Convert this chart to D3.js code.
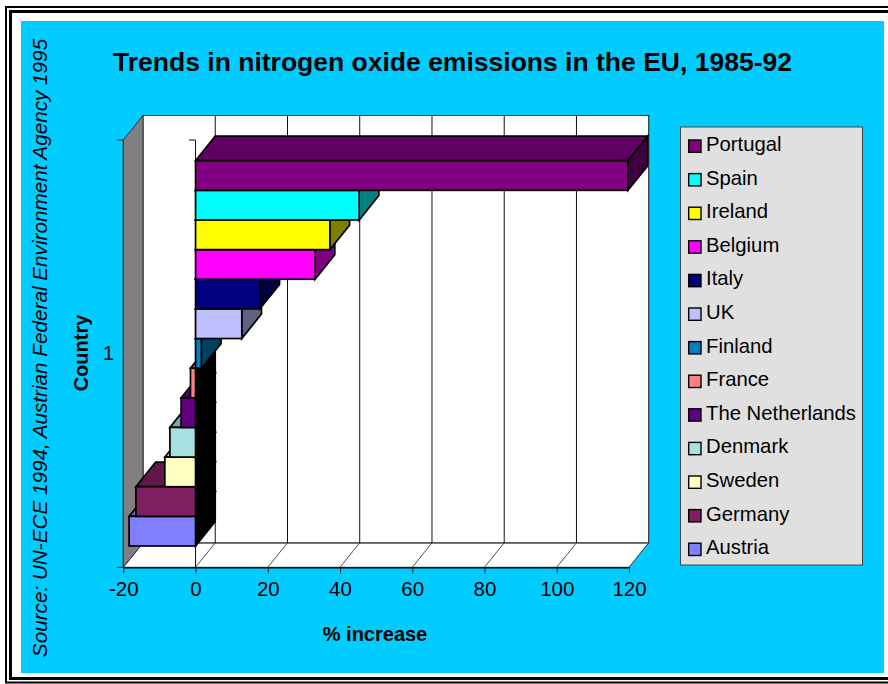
<!DOCTYPE html>
<html>
<head>
<meta charset="utf-8">
<script src="https://cdn.jsdelivr.net/npm/d3@7"></script>
<style>
html,body{margin:0;padding:0;background:#fff;}
svg{display:block;}
text{font-family:"Liberation Sans",Arial,sans-serif;fill:#000;}
</style>
</head>
<body>
<svg id="chart" width="888" height="684"></svg>
<script>
// NOx emission change per country, 1985-92, listed from top of the stack to bottom
const countries = ["Portugal","Spain","Ireland","Belgium","Italy","UK","Finland","France","The Netherlands","Denmark","Sweden","Germany","Austria"];
const increases = [119.7,45.3,37.2,33.1,17.8,12.8,1.6,-1.4,-4.0,-7.1,-8.5,-16.5,-18.4];
const fills = ["#800080","#00ffff","#ffff00","#ff00ff","#000080","#c0c0ff","#0080c0","#ff8080","#600080","#a6e0e0","#ffffc0","#802060","#8080ff"];
const xTicks = [-20,0,20,40,60,80,100,120];
const categoryLabels = ["1"];

const svg = d3.select("#chart");

// Double-rule page frame and blue panel
svg.append("rect").attr("x",6).attr("y",7).attr("width",900).attr("height",675.5)
  .attr("fill","none").attr("stroke","#000").attr("stroke-width",2);
svg.append("rect").attr("x",10.5).attr("y",11.5).attr("width",900).attr("height",667)
  .attr("fill","#fff").attr("stroke","#000").attr("stroke-width",3);
svg.append("rect").attr("x",21).attr("y",21).attr("width",863).attr("height",652).attr("fill","#00ccff");

// Oblique projection of the plot box
const depth = {x:19.7, y:-24.5};
const frontTop = 140, frontBottom = 567.3;
const x = d3.scaleLinear().domain([-20,120]).range([123.3,629]);
const y = d3.scaleBand().domain(countries).range([160.7,546]);
const back = (px,py) => [px+depth.x, py+depth.y];
const poly = pts => "M" + pts.map(p => p.join(",")).join("L") + "Z";
const x0 = x(-20), x1 = x(120);

const walls = svg.append("g");
walls.append("path").attr("d",poly([[x0,frontBottom],[x1,frontBottom],back(x1,frontBottom),back(x0,frontBottom)]))
  .attr("fill","#fff").attr("stroke","#333").attr("stroke-width",1);
walls.append("path").attr("d",poly([back(x0,frontTop),back(x1,frontTop),back(x1,frontBottom),back(x0,frontBottom)]))
  .attr("fill","#fff").attr("stroke","#333").attr("stroke-width",1.2);
walls.append("path").attr("d",poly([[x0,frontTop],back(x0,frontTop),back(x0,frontBottom),[x0,frontBottom]]))
  .attr("fill","#808080").attr("stroke","#333").attr("stroke-width",1);

// Gridlines on the back wall and across the floor
const inner = xTicks.slice(1,-1);
walls.selectAll(".grid").data(inner).join("line").attr("class","grid")
  .attr("x1",d=>x(d)+depth.x).attr("x2",d=>x(d)+depth.x)
  .attr("y1",frontTop+depth.y).attr("y2",frontBottom+depth.y)
  .attr("stroke","#111").attr("stroke-width",1);
walls.selectAll(".floor").data(inner).join("line").attr("class","floor")
  .attr("x1",d=>x(d)).attr("x2",d=>x(d)+depth.x)
  .attr("y1",frontBottom).attr("y2",frontBottom+depth.y)
  .attr("stroke","#222").attr("stroke-width",0.8);

// Category axis drawn on the zero plane, visible above and below the stack
const zeroAxis = svg.append("g").attr("fill","none").attr("stroke","#111").attr("stroke-width",1);
zeroAxis.append("path").attr("d",`M${x(0)-6.5},${frontTop}H${x(0)}V${y.range()[0]}`);
zeroAxis.append("path").attr("d",`M${x(0)},${y.range()[1]}V${frontBottom}`);

// Stacked-looking 3D bars, painted from the bottom up so upper bars overlap lower tops
const shade = (c,k) => { const r = d3.rgb(c); return d3.rgb(r.r*k,r.g*k,r.b*k).formatHex(); };
const rows = countries.map((name,i)=>({name,value:increases[i],fill:fills[i]})).reverse();
const bars = svg.append("g").attr("stroke","#000").attr("stroke-width",1.7).attr("stroke-linejoin","miter");
rows.forEach(d=>{
  const a = Math.min(x(0),x(d.value)), b = Math.max(x(0),x(d.value));
  const t = y(d.name), h = y.bandwidth();
  const g = bars.append("g");
  g.append("path").attr("d",poly([[a,t],[b,t],back(b,t),back(a,t)])).attr("fill",shade(d.fill,0.75));
  g.append("path").attr("d",poly([[b,t],back(b,t),back(b,t+h),[b,t+h]]))
    .attr("fill",d.value<0 ? "#000" : shade(d.fill,0.5));
  g.append("rect").attr("x",a).attr("y",t).attr("width",b-a).attr("height",h).attr("fill",d.fill);
});

// Value axis along the front of the floor
const xAxis = svg.append("g").attr("transform",`translate(0,${frontBottom})`)
  .call(d3.axisBottom(x).tickValues(xTicks).tickSize(6).tickPadding(8).tickSizeOuter(0).tickFormat(d=>String(d)));
xAxis.select(".domain").attr("stroke","#000").attr("stroke-width",1.2);
xAxis.selectAll(".tick line").attr("stroke","#222");
xAxis.selectAll("text").attr("font-size",20.5).attr("font-family",'"Liberation Sans",Arial,sans-serif');

// Left edge ticks and the single category label
const leftAxis = svg.append("g");
leftAxis.selectAll("line").data([frontTop,frontBottom]).join("line")
  .attr("x1",x0-6.5).attr("x2",x0).attr("y1",d=>d).attr("y2",d=>d)
  .attr("stroke","#222").attr("stroke-width",1);
leftAxis.append("line").attr("x1",x0).attr("x2",x0).attr("y1",frontTop).attr("y2",frontBottom).attr("stroke","#333");
leftAxis.selectAll("text").data(categoryLabels).join("text")
  .attr("x",108.5).attr("y",360).attr("text-anchor","middle").attr("font-size",20.5).text(d=>d);

// Titles
svg.append("text").attr("x",452.5).attr("y",71).attr("text-anchor","middle")
  .attr("font-size",26.5).attr("font-weight","bold").text("Trends in nitrogen oxide emissions in the EU, 1985-92");
svg.append("text").attr("x",375).attr("y",641).attr("text-anchor","middle")
  .attr("font-size",20).attr("font-weight","bold").text("% increase");
svg.append("text").attr("transform","translate(88,353) rotate(-90)").attr("text-anchor","middle")
  .attr("font-size",20).attr("font-weight","bold").text("Country");
svg.append("text").attr("transform","translate(47,348) rotate(-90)").attr("text-anchor","middle")
  .attr("font-size",20.7).attr("font-style","italic").text("Source: UN-ECE 1994, Austrian Federal Environment Agency 1995");

// Legend panel
svg.append("rect").attr("x",680.5).attr("y",127).attr("width",182).attr("height",438)
  .attr("fill","#e0e0e0").attr("stroke","#444").attr("stroke-width",1);
const legendY = d3.scalePoint().domain(countries).range([146,549.2]);
const items = svg.append("g").selectAll("g").data(d3.zip(countries,fills)).join("g")
  .attr("transform",d=>`translate(0,${legendY(d[0])})`);
items.append("rect").attr("x",688.7).attr("y",-6).attr("width",12.3).attr("height",12.3)
  .attr("fill",d=>d[1]).attr("stroke","#000").attr("stroke-width",1.4);
items.append("text").attr("x",706).attr("y",5).attr("font-size",20.3).text(d=>d[0]);
</script>
</body>
</html>
